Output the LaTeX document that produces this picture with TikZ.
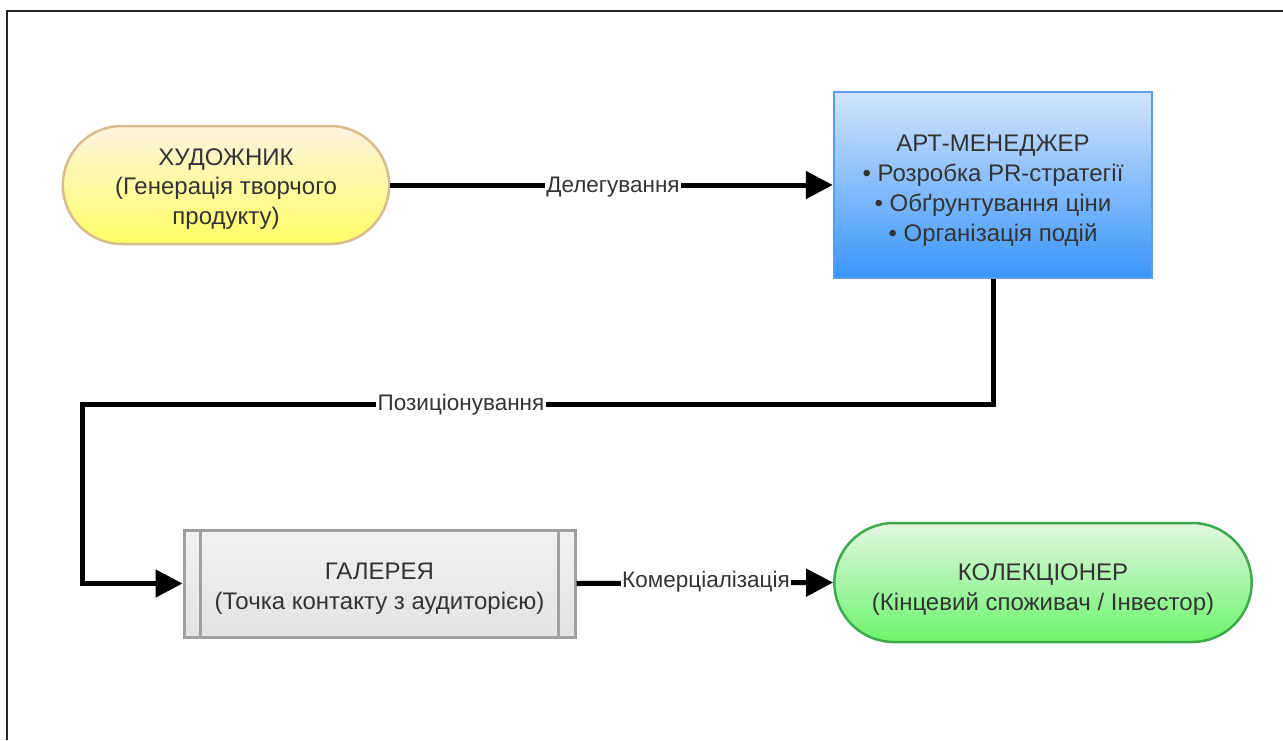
\documentclass[tikz,border=0pt]{standalone}
\usepackage{fontspec}
\setmainfont{Liberation Sans}
\usetikzlibrary{arrows.meta,shapes.misc}
\definecolor{txt}{HTML}{333333}
\definecolor{yTop}{HTML}{FDF4DE}
\definecolor{yBot}{HTML}{FFFF66}
\definecolor{yBrd}{HTML}{D8BC8E}
\definecolor{bTop}{HTML}{D2E5FD}
\definecolor{bBot}{HTML}{3A95F8}
\definecolor{bBrd}{HTML}{5A9CF2}
\definecolor{gTop}{HTML}{F2F2F2}
\definecolor{gBot}{HTML}{E3E3E3}
\definecolor{gBrd}{HTML}{A0A0A0}
\definecolor{cTop}{HTML}{E2F6E2}
\definecolor{cBot}{HTML}{6CF56C}
\definecolor{cBrd}{HTML}{3DAA4C}
\tikzset{
  x=1pt, y=-1pt,
  boxtext/.style={text=txt, align=center, font=\fontsize{24}{29.5}\selectfont, inner sep=0pt},
  stadium/.style={rounded rectangle, line width=2.5pt},
  conn/.style={line width=5pt, -{Triangle[length=27pt,width=27pt]}},
  lbl/.style={fill=white, text=txt, font=\fontsize{22.5}{24}\selectfont, inner sep=1.5pt}
}
\begin{document}
\begin{tikzpicture}
\useasboundingbox (0,0) rectangle (1283,740);
% frame
\draw[line width=2pt, black!85] (7,740) -- (7,11) -- (1283,11);
% shapes
\node[stadium, draw=yBrd, top color=yTop, bottom color=yBot,
      minimum width=333pt, minimum height=118pt] (art) at (226,185) {};
\node[rectangle, draw=bBrd, line width=2.5pt, top color=bTop, bottom color=bBot,
      minimum width=318pt, minimum height=186pt] (am) at (993,185) {};
\node[rectangle, draw=gBrd, line width=3pt, top color=gTop, bottom color=gBot,
      minimum width=391pt, minimum height=107pt] (gal) at (379.5,583.5) {};
\draw[gBrd, line width=3pt] ([xshift=18pt]gal.north west) -- ([xshift=18pt]gal.south west);
\draw[gBrd, line width=3pt] ([xshift=-18pt]gal.north east) -- ([xshift=-18pt]gal.south east);
\node[stadium, draw=cBrd, top color=cTop, bottom color=cBot,
      minimum width=424pt, minimum height=119pt] (col) at (1043,582.5) {};
% texts
\node[boxtext] (art-t) at ([yshift=-4pt]art.center)
  {ХУДОЖНИК\\(Генерація творчого\\продукту)};
\node[boxtext, font=\fontsize{24}{30}\selectfont] (am-t) at ([yshift=-6pt]am.center)
  {АРТ-МЕНЕДЖЕР\\• Розробка PR-стратегії\\• Обґрунтування ціни\\• Організація подій};
\node[boxtext] (gal-t) at ([yshift=-5pt]gal.center)
  {ГАЛЕРЕЯ\\(Точка контакту з аудиторією)};
\node[boxtext] (col-t) at ([yshift=-7pt]col.center)
  {КОЛЕКЦІОНЕР\\(Кінцевий споживач / Інвестор)};
% connectors
\draw[conn] (art.east) -- (am.west);
\node[lbl] (l1) at (613,187) {Делегування};
\coordinate (bend) at (82,404);
\draw[conn] (am.south) |- (bend) |- (gal.west);
\node[lbl] (l2) at (461,405) {Позиціонування};
\draw[conn] (gal.east) -- (col.west);
\node[lbl] (l3) at (706,582) {Комерціалізація};
\end{tikzpicture}
\end{document}
